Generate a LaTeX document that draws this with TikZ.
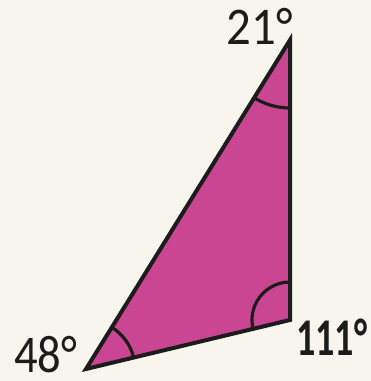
\documentclass[tikz,border=0pt]{standalone}
\usepackage{fontspec}
\setmainfont{Carlito}
\usepackage{xcolor}
\definecolor{paper}{HTML}{F8F5EE}
\definecolor{tri}{HTML}{CA4692}
\definecolor{ink}{HTML}{1C1C1C}

\begin{document}
\begin{tikzpicture}[x=1pt,y=1pt,
  side/.style={draw=ink, line width=4pt, fill=tri, line join=miter},
  angmark/.style={draw=ink, line width=3.2pt},
  deg/.style={inner sep=0pt, text depth=0pt, text=ink, font=\fontsize{53}{53}\selectfont}]
\fill[paper] (0,0) rectangle (371,381);
\useasboundingbox (0,0) rectangle (371,381);
\coordinate (top) at (290,341);
\coordinate (left) at (86,12);
\coordinate (right) at (290,61);
\draw[side] (top) -- (left) -- (right) -- cycle;
\draw[angmark] (top) ++(238.2:68) arc[start angle=238.2, end angle=270, radius=68];
\draw[angmark] (left) ++(13.5:49) arc[start angle=13.5, end angle=58.2, radius=49];
\draw[angmark] (right) ++(90:38) arc[start angle=90, end angle=193.5, radius=38];
%\filldraw[ink] (top) circle (2pt);
\node[deg, anchor=base east] (atop) at (293,336) {\scalebox{0.92}[1]{21°}};
\node[deg, anchor=base west] (aleft) at (14,9) {\scalebox{0.88}[1]{48°}};
\node[deg, anchor=base west, font=\fontsize{53}{53}\selectfont\bfseries] (aright) at (296,26) {\scalebox{0.72}[1]{111°}};
\end{tikzpicture}
\end{document}
